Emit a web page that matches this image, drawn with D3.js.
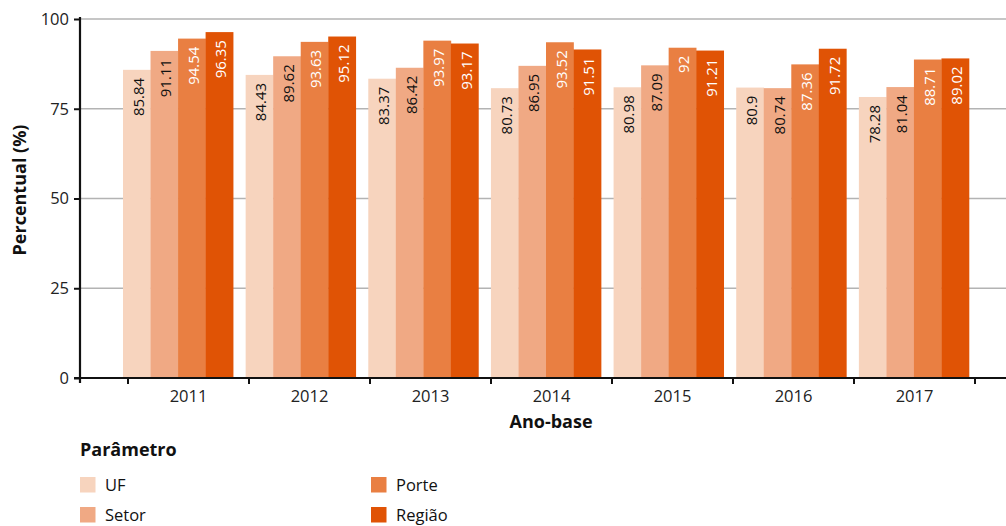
<!DOCTYPE html>
<html><head><meta charset="utf-8">
<script src="https://cdn.jsdelivr.net/npm/d3@7"></script>
<style>
html,body{margin:0;padding:0;background:#fff;}
svg{display:block;font-family:"Open Sans",sans-serif;}
</style></head><body>
<svg id="chart" width="1006" height="526"></svg>
<script>
const years = ["2011","2012","2013","2014","2015","2016","2017"];
const seriesNames = ["UF","Setor","Porte","Região"];
const ufValues    = [85.84, 84.43, 83.37, 80.73, 80.98, 80.9, 78.28];
const setorValues = [91.11, 89.62, 86.42, 86.95, 87.09, 80.74, 81.04];
const porteValues = [94.54, 93.63, 93.97, 93.52, 92, 87.36, 88.71];
const regiaoValues= [96.35, 95.12, 93.17, 91.51, 91.21, 91.72, 89.02];
const yTicks = [0, 25, 50, 75, 100];
const colors = ["#F7D4BE", "#F0A984", "#E97F42", "#E05305"];
const labelColors = ["#111", "#111", "#fff", "#fff"];

const allSeries = [ufValues, setorValues, porteValues, regiaoValues];
const svg = d3.select("#chart");

const y = d3.scaleLinear().domain([0, 100]).range([378, 19]);
const xAxisScale = d3.scaleBand().domain(years).range([128, 975]);
const xBars = d3.scaleBand().domain(years).range([123, 969]).paddingInner(12.5/122.5).paddingOuter(0);
const xInner = d3.scaleBand().domain(seriesNames).range([0, xBars.bandwidth()]);

// gridlines
svg.append("g").selectAll("line").data(yTicks.filter(d => d > 0)).join("line")
  .attr("x1", 80).attr("x2", 1006)
  .attr("y1", d => y(d)).attr("y2", d => y(d))
  .attr("stroke", "#b3b3b3").attr("stroke-width", 1.3);

// bars
const groups = svg.append("g").selectAll("g").data(years).join("g")
  .attr("transform", d => `translate(${xBars(d)},0)`);

groups.each(function(yr, i) {
  const g = d3.select(this);
  const data = seriesNames.map((s, k) => ({s, k, v: allSeries[k][i]}));
  g.selectAll("rect").data(data).join("rect")
    .attr("x", d => xInner(d.s))
    .attr("y", d => y(d.v))
    .attr("width", xInner.bandwidth() + 0.3)
    .attr("height", d => y(0) - y(d.v))
    .attr("fill", d => colors[d.k]);
  g.selectAll("text").data(data).join("text")
    .attr("transform", d => `translate(${xInner(d.s) + xInner.bandwidth()/2 + 1},${y(d.v) + 8}) rotate(-90)`)
    .attr("text-anchor", "end")
    .attr("dominant-baseline", "central")
    .attr("font-size", 15)
    .attr("fill", d => labelColors[d.k])
    .text(d => d.v);
});

// y axis
const yAxis = svg.append("g").attr("transform", "translate(80,0)")
  .call(d3.axisLeft(y).tickValues(yTicks).tickSize(6).tickPadding(5));
yAxis.select(".domain").attr("stroke", "#111").attr("stroke-width", 2.2).attr("d", "M0,17V383");
yAxis.selectAll(".tick line").attr("stroke", "#111").attr("stroke-width", 2);
yAxis.selectAll(".tick text").attr("font-size", 16.5).attr("fill", "#222").attr("font-family", "Open Sans");

// x axis
const xAxis = svg.append("g").attr("transform", "translate(0,378)")
  .call(d3.axisBottom(xAxisScale).tickSize(0).tickPadding(12));
xAxis.select(".domain").attr("stroke", "#111").attr("stroke-width", 2.2).attr("d", "M74,0H1006");
xAxis.selectAll(".tick text").attr("font-size", 16.5).attr("fill", "#222").attr("font-family", "Open Sans");
const edges = years.map(d => xAxisScale(d)).concat([xAxisScale.range()[1]]);
xAxis.append("g").selectAll("line").data(edges).join("line")
  .attr("x1", d => d).attr("x2", d => d).attr("y1", 0).attr("y2", 6)
  .attr("stroke", "#111").attr("stroke-width", 2);

// axis titles
svg.append("text").attr("x", 551).attr("y", 428).attr("text-anchor", "middle")
  .attr("font-size", 18).attr("font-weight", "bold").attr("fill", "#111").text("Ano-base");
svg.append("text").attr("transform", "translate(26,190) rotate(-90)").attr("text-anchor", "middle")
  .attr("font-size", 18).attr("font-weight", "bold").attr("fill", "#111").text("Percentual (%)");

// legend
svg.append("text").attr("x", 80).attr("y", 456).attr("font-size", 18).attr("font-weight", "bold")
  .attr("fill", "#111").text("Parâmetro");
const legendPos = [[80, 477], [80, 507], [371, 477], [371, 507]];
const leg = svg.append("g").selectAll("g").data(seriesNames).join("g")
  .attr("transform", (d, i) => `translate(${legendPos[i][0]},${legendPos[i][1]})`);
leg.append("rect").attr("width", 15.5).attr("height", 15.5).attr("fill", (d, i) => colors[i]);
leg.append("text").attr("x", 25).attr("y", 14).attr("font-size", 16.5).attr("fill", "#111").text(d => d);
</script>
</body></html>
